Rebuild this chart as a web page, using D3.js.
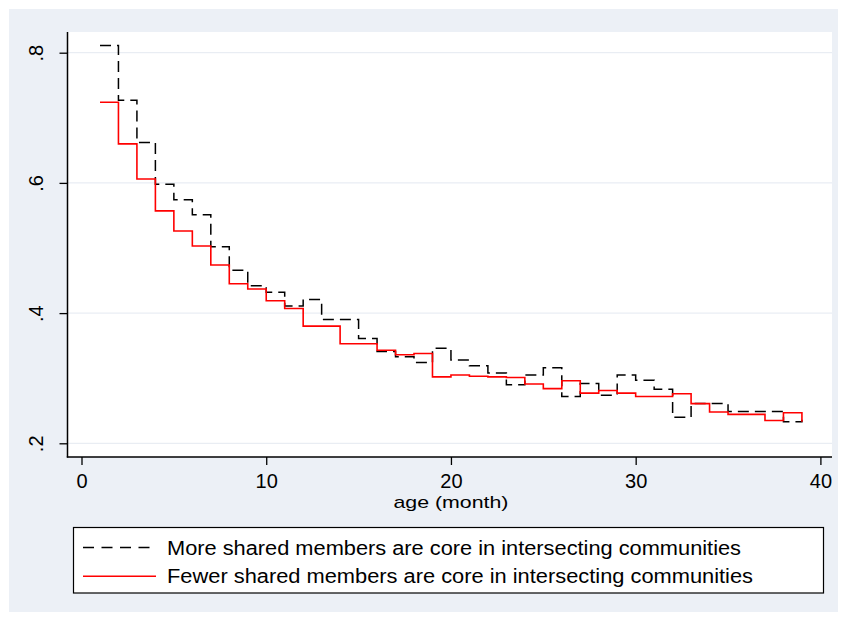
<!DOCTYPE html>
<html>
<head>
<meta charset="utf-8">
<script src="https://cdn.jsdelivr.net/npm/d3@7"></script>
<style>
  body { margin: 0; background: #ffffff; }
  text { font-family: "Liberation Sans", Arial, sans-serif; fill: #000; }
</style>
</head>
<body>
<svg id="chart" width="843" height="617"></svg>
<script>
// Age in months at which each group was observed
const months = [1, 2, 3, 4, 5, 6, 7, 8, 9, 10, 11, 12, 13, 14, 15, 16, 17, 18, 19, 20,
                21, 22, 23, 24, 25, 26, 27, 28, 29, 30, 31, 32, 33, 34, 35, 36, 37, 38, 39];

// More shared members are core in intersecting communities
const moreShared = [0.811, 0.727, 0.662, 0.598, 0.574, 0.551, 0.502, 0.466, 0.442, 0.432,
                    0.411, 0.421, 0.390, 0.390, 0.361, 0.341, 0.333, 0.324, 0.346, 0.328,
                    0.319, 0.308, 0.290, 0.305, 0.316, 0.272, 0.292, 0.274, 0.305, 0.297,
                    0.283, 0.240, 0.261, 0.261, 0.249, 0.249, 0.249, 0.233, 0.236];

// Fewer shared members are core in intersecting communities
const fewerShared = [0.724, 0.660, 0.606, 0.557, 0.526, 0.503, 0.474, 0.445, 0.437, 0.419,
                     0.407, 0.380, 0.380, 0.353, 0.353, 0.343, 0.336, 0.338, 0.302, 0.305,
                     0.303, 0.302, 0.301, 0.291, 0.284, 0.296, 0.277, 0.281, 0.277, 0.272,
                     0.272, 0.276, 0.261, 0.248, 0.2445, 0.2445, 0.235, 0.247, 0.233];

const xTicks = [0, 10, 20, 30, 40];
const xTickLabels = ["0", "10", "20", "30", "40"];
const yTicks = [0.2, 0.4, 0.6, 0.8];
const yTickLabels = [".2", ".4", ".6", ".8"];

const legendLabels = [
  "More shared members are core in intersecting communities",
  "Fewer shared members are core in intersecting communities"
];

const svg = d3.select("#chart");

// Outer graph region
svg.append("rect")
  .attr("x", 9).attr("y", 9).attr("width", 829).attr("height", 603)
  .attr("fill", "#ecf0f6");

// Plot region
const plot = { left: 67.5, right: 832, top: 32, bottom: 457 };
svg.append("rect")
  .attr("x", plot.left).attr("y", plot.top)
  .attr("width", plot.right - plot.left).attr("height", plot.bottom - plot.top)
  .attr("fill", "#ffffff");

const x = d3.scaleLinear().domain([0, 40]).range([81.5, 820.4]);
const y = d3.scaleLinear().domain([0.2, 0.8]).range([443.3, 52.7]);

// Horizontal gridlines
svg.append("g")
  .selectAll("line")
  .data(yTicks)
  .join("line")
  .attr("x1", plot.left).attr("x2", plot.right)
  .attr("y1", d => y(d)).attr("y2", d => y(d))
  .attr("stroke", "#e4e9f1").attr("stroke-width", 1);

// Y axis with rotated labels
const yAxis = svg.append("g")
  .attr("transform", `translate(${plot.left},0)`)
  .call(d3.axisLeft(y).tickValues(yTicks)
    .tickFormat((d, i) => yTickLabels[i])
    .tickSize(8).tickSizeOuter(0));
yAxis.select(".domain").remove();
yAxis.selectAll(".tick line").attr("stroke", "#000").attr("stroke-width", 1.3);
yAxis.selectAll(".tick text")
  .attr("transform", "rotate(-90)")
  .attr("x", 0).attr("y", -25).attr("dy", 0)
  .attr("text-anchor", "middle")
  .style("font-size", "20px")
  .style("font-family", "'Liberation Sans', Arial, sans-serif");

// X axis
const xAxis = svg.append("g")
  .attr("transform", `translate(0,${plot.bottom})`)
  .call(d3.axisBottom(x).tickValues(xTicks)
    .tickFormat((d, i) => xTickLabels[i])
    .tickSize(8).tickSizeOuter(0));
xAxis.select(".domain").remove();
xAxis.selectAll(".tick line").attr("stroke", "#000").attr("stroke-width", 1.3);
xAxis.selectAll(".tick text")
  .attr("y", 31).attr("dy", 0)
  .style("font-size", "20px")
  .style("font-family", "'Liberation Sans', Arial, sans-serif");

// Axis lines
svg.append("line")
  .attr("x1", plot.left).attr("x2", plot.left)
  .attr("y1", plot.top).attr("y2", plot.bottom + 0.6)
  .attr("stroke", "#000").attr("stroke-width", 1.5);
svg.append("line")
  .attr("x1", plot.left - 0.7).attr("x2", plot.right)
  .attr("y1", plot.bottom).attr("y2", plot.bottom)
  .attr("stroke", "#000").attr("stroke-width", 1.5);

// Axis title
svg.append("text")
  .attr("x", x(20)).attr("y", 508)
  .attr("text-anchor", "middle")
  .attr("textLength", 115)
  .attr("lengthAdjust", "spacingAndGlyphs")
  .style("font-size", "17px")
  .text("age (month)");

// Step lines
const stepLine = d3.line()
  .x(d => x(d[0]))
  .y(d => y(d[1]))
  .curve(d3.curveStepAfter);

const series = [
  { values: moreShared, color: "#000000", dash: "11,6", width: 1.5 },
  { values: fewerShared, color: "#ff0000", dash: null, width: 1.6 }
];

svg.append("g")
  .selectAll("path")
  .data(series)
  .join("path")
  .attr("d", s => stepLine(months.map((m, i) => [m, s.values[i]])))
  .attr("fill", "none")
  .attr("stroke", s => s.color)
  .attr("stroke-width", s => s.width)
  .attr("stroke-dasharray", s => s.dash);

// Legend
const legend = svg.append("g");
legend.append("rect")
  .attr("x", 73.5).attr("y", 527.5).attr("width", 750).attr("height", 65.5)
  .attr("fill", "#ffffff").attr("stroke", "#000").attr("stroke-width", 1.2);

const legendTextWidths = [574, 586];
const legendRows = legend.selectAll("g.row")
  .data(series)
  .join("g")
  .attr("class", "row")
  .attr("transform", (d, i) => `translate(0,${547.5 + i * 28.8})`);
legendRows.append("line")
  .attr("x1", 83).attr("x2", 156)
  .attr("stroke", d => d.color)
  .attr("stroke-width", d => d.width)
  .attr("stroke-dasharray", d => d.dash ? "11,7.5" : null);
legendRows.append("text")
  .attr("x", 167).attr("y", 7)
  .attr("textLength", (d, i) => legendTextWidths[i])
  .attr("lengthAdjust", "spacingAndGlyphs")
  .style("font-size", "20px")
  .text((d, i) => legendLabels[i]);
</script>
</body>
</html>
